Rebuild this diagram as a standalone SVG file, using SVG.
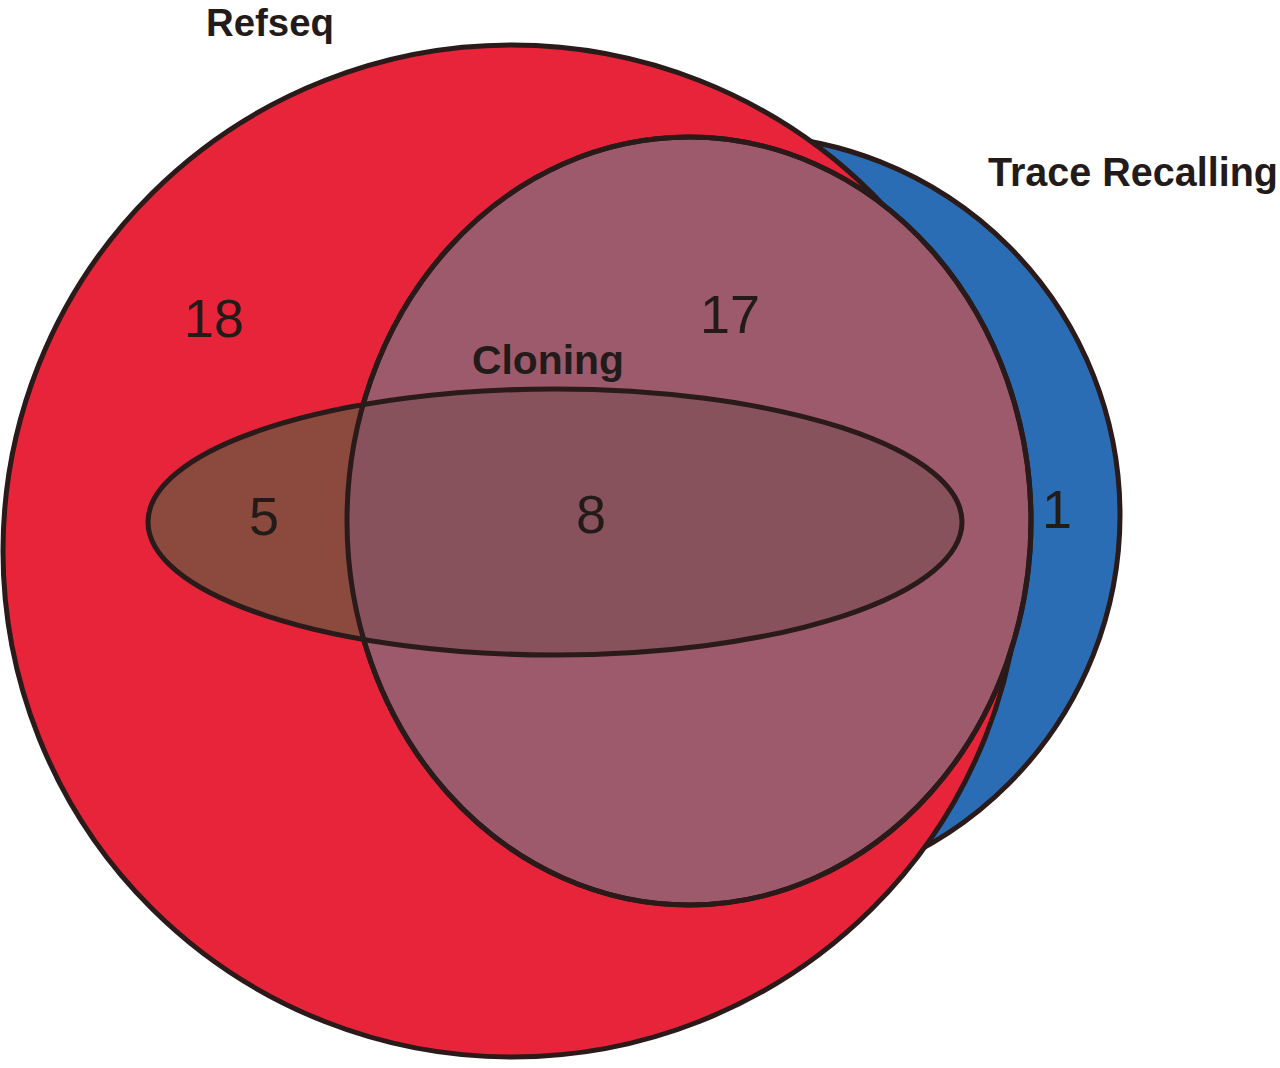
<svg xmlns="http://www.w3.org/2000/svg" width="1280" height="1068" viewBox="0 0 1280 1068">
<style>
.s{stroke:#2a1a1a;stroke-width:5}
.t{font-family:"Liberation Sans",Arial,sans-serif;fill:#231a1a}
</style>
<defs>
<clipPath id="mid"><ellipse cx="689" cy="521" rx="342" ry="384"/></clipPath>
</defs>
<rect width="1280" height="1068" fill="#ffffff"/>
<g id="trace"><circle class="s" cx="740" cy="515" r="380" fill="#2a6db5"/></g>
<g id="refseq"><ellipse class="s" cx="512" cy="551" rx="509" ry="506" fill="#e8243a"/></g>
<g id="overlap"><ellipse class="s" cx="689" cy="521" rx="342" ry="384" fill="#9d5a6c"/></g>
<g id="cloning">
<ellipse cx="555" cy="522" rx="407" ry="133" fill="#8c4a3e"/>
<ellipse cx="555" cy="522" rx="407" ry="133" fill="#87525c" clip-path="url(#mid)"/>
<ellipse class="s" cx="555" cy="522" rx="407" ry="133" fill="none"/>
<ellipse class="s" cx="689" cy="521" rx="342" ry="384" fill="none"/>
</g>
<g id="labels">
<text class="t" x="270" y="36" font-size="38" font-weight="bold" text-anchor="middle" textLength="128" lengthAdjust="spacingAndGlyphs">Refseq</text>
<text class="t" x="1133" y="186" font-size="40" font-weight="bold" text-anchor="middle" textLength="290" lengthAdjust="spacingAndGlyphs">Trace Recalling</text>
<text class="t" x="548" y="374" font-size="40" font-weight="bold" text-anchor="middle" textLength="152" lengthAdjust="spacingAndGlyphs">Cloning</text>
<text class="t" x="214" y="337" font-size="54" text-anchor="middle">18</text>
<text class="t" x="730" y="333" font-size="54" text-anchor="middle">17</text>
<text class="t" x="264" y="535" font-size="54" text-anchor="middle">5</text>
<text class="t" x="591" y="533" font-size="54" text-anchor="middle">8</text>
<text class="t" x="1057" y="528" font-size="54" text-anchor="middle">1</text>
</g>
</svg>
